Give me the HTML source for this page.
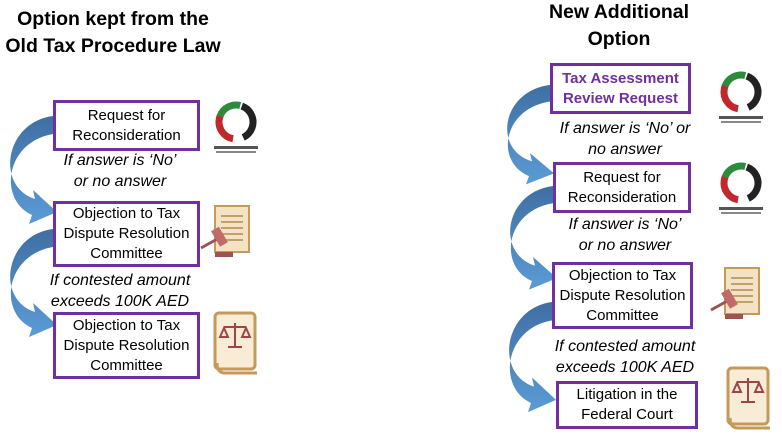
<!DOCTYPE html>
<html><head><meta charset="utf-8"><style>
body{margin:0;width:782px;height:436px;background:#fff;position:relative;overflow:hidden;font-family:"Liberation Sans",Arial,sans-serif;}
.t{position:absolute;font-weight:bold;font-size:19.5px;text-align:center;color:#000;line-height:27px}
.b{position:absolute;border:3px solid #7030a0;box-sizing:border-box;display:flex;align-items:center;justify-content:center;text-align:center;font-size:15px;line-height:20px;color:#000;background:#fff}
.l{position:absolute;font-style:italic;font-size:16px;line-height:21px;text-align:center;color:#000}
svg{position:absolute;left:0;top:0}
</style></head><body>
<svg width="782" height="436">
<defs><linearGradient id="g" x1="0" y1="0" x2="0" y2="1"><stop offset="0" stop-color="#3f6fa3"/><stop offset="1" stop-color="#5b9bd5"/></linearGradient>
<path id="a" d="M0,0 C-48,6 -58,70 -18,83 L-20,74 L4,96 L-24,108 L-21,99 C-55,84 -48,26 0,18 Z" fill="url(#g)"/>
<g id="logo"><circle cx="0" cy="0" r="17" fill="none" stroke="#c0282d" stroke-width="7" stroke-dasharray="30 80" transform="rotate(100)"/><circle cx="0" cy="0" r="17" fill="none" stroke="#2f8a3e" stroke-width="7" stroke-dasharray="25 85" transform="rotate(200)"/><circle cx="0" cy="0" r="17" fill="none" stroke="#222" stroke-width="7" stroke-dasharray="40 70" transform="rotate(290)"/><rect x="-22" y="24" width="44" height="3" fill="#555"/><rect x="-20" y="29" width="40" height="2" fill="#888"/></g>
<g id="gav"><rect x="10" y="0" width="34" height="46" fill="#f4e2c4" stroke="#c49a5a" stroke-width="2"/><g stroke="#b08a52" stroke-width="1.5"><line x1="16" y1="10" x2="38" y2="10"/><line x1="16" y1="16" x2="38" y2="16"/><line x1="16" y1="22" x2="38" y2="22"/><line x1="16" y1="28" x2="38" y2="28"/><line x1="16" y1="34" x2="38" y2="34"/></g><line x1="-4" y1="42" x2="14" y2="32" stroke="#a05252" stroke-width="3"/><rect x="10" y="22" width="9" height="18" fill="#c06a6a" transform="rotate(-30 14 31)"/><rect x="10" y="46" width="18" height="5" fill="#a05252"/></g>
<g id="book"><rect x="0" y="0" width="40" height="56" rx="4" fill="#f8ecd6" stroke="#c49a5a" stroke-width="3"/><path d="M2,50 Q2,60 10,60 L42,60" fill="none" stroke="#c49a5a" stroke-width="3"/><g stroke="#a04545" stroke-width="2" fill="none"><line x1="20" y1="10" x2="20" y2="34"/><line x1="9" y1="14" x2="31" y2="14"/><path d="M5,24 L9,15 L13,24 Z M27,24 L31,15 L35,24 Z"/><line x1="13" y1="34" x2="27" y2="34"/></g></g>
</defs>
<use href="#a" transform="translate(53,116)"/>
<use href="#a" transform="translate(53,229)"/>
<use href="#a" transform="translate(550,85) scale(1,0.92)"/>
<use href="#a" transform="translate(553,186) scale(1,0.96)"/>
<use href="#a" transform="translate(552,302) scale(1,1.02)"/>
<use href="#logo" transform="translate(236,122)"/>
<use href="#logo" transform="translate(741,92)"/>
<use href="#logo" transform="translate(741,183)"/>
<use href="#gav" transform="translate(205,206)"/>
<use href="#gav" transform="translate(715,268)"/>
<use href="#book" transform="translate(215,313)"/>
<use href="#book" transform="translate(728,368)"/>
</svg>
<div class="t" style="left:0;width:226px;top:6px">Option kept from the<br>Old Tax Procedure Law</div>
<div class="t" style="left:519px;width:200px;top:-1px">New Additional<br>Option</div>
<div class="b" style="left:53px;top:100px;width:147px;height:51px">Request for<br>Reconsideration</div>
<div class="l" style="left:40px;width:160px;top:150px">If answer is ‘No’<br>or no answer</div>
<div class="b" style="left:53px;top:201px;width:147px;height:66px">Objection to Tax<br>Dispute Resolution<br>Committee</div>
<div class="l" style="left:30px;width:180px;top:270px">If contested amount<br>exceeds 100K AED</div>
<div class="b" style="left:53px;top:312px;width:147px;height:67px">Objection to Tax<br>Dispute Resolution<br>Committee</div>
<div class="b" style="left:550px;top:63px;width:141px;height:51px;color:#7030a0;font-weight:bold">Tax Assessment<br>Review Request</div>
<div class="l" style="left:540px;width:170px;top:118px">If answer is ‘No’ or<br>no answer</div>
<div class="b" style="left:553px;top:162px;width:138px;height:51px">Request for<br>Reconsideration</div>
<div class="l" style="left:545px;width:160px;top:214px">If answer is ‘No’<br>or no answer</div>
<div class="b" style="left:552px;top:262px;width:141px;height:67px">Objection to Tax<br>Dispute Resolution<br>Committee</div>
<div class="l" style="left:540px;width:170px;top:336px">If contested amount<br>exceeds 100K AED</div>
<div class="b" style="left:556px;top:381px;width:142px;height:48px">Litigation in the<br>Federal Court</div>
</body></html>
